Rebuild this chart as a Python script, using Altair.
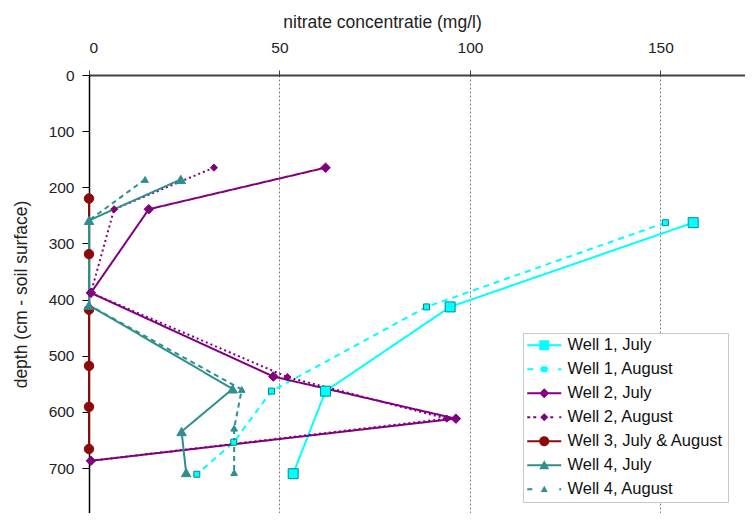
import altair as alt
import pandas as pd

# ---- data ----
series = ["Well 1, July", "Well 1, August", "Well 2, July", "Well 2, August",
          "Well 3, July & August", "Well 4, July", "Well 4, August"]

w1_jul_x = [158.6, 94.8, 62.1, 53.6]
w1_jul_d = [263, 413, 563, 710]
w1_aug_x = [151.3, 88.6, 47.9, 38.0, 28.3]
w1_aug_d = [263, 413, 563, 654, 711]
w2_jul_x = [62.1, 15.7, 0.5, 48.4, 96.3, 0.5]
w2_jul_d = [165, 239, 388, 537, 612, 687]
w2_aug_x = [32.8, 6.6, 0.5, 52.1, 93.9, 0.5]
w2_aug_d = [165, 239, 388, 538, 612, 687]
w3_x = [0, 0, 0, 0, 0, 0]
w3_d = [220, 319, 418, 518, 591, 666]
w4_jul_x = [24.1, 0.0, 0.0, 37.7, 24.3, 25.5]
w4_jul_d = [186, 259, 410, 559, 635, 708]
w4_aug_x = [14.7, 0.0, 0.0, 40.1, 38.1, 38.1]
w4_aug_d = [186, 259, 410, 560, 629, 708]

xs = [w1_jul_x, w1_aug_x, w2_jul_x, w2_aug_x, w3_x, w4_jul_x, w4_aug_x]
ds = [w1_jul_d, w1_aug_d, w2_jul_d, w2_aug_d, w3_d, w4_jul_d, w4_aug_d]

colors = ["#00FFFF", "#00FFFF", "#800080", "#800080", "#8B0A0A", "#2F8F8F", "#2F8F8F"]
mstroke = ["#008B8B", "#008B8B", "#800080", "#800080", "#8B0A0A", "#2F8F8F", "#2F8F8F"]
mshape = ["square", "square", "diamond", "diamond", "circle", "triangle-up", "triangle-up"]
msize = [100, 36, 90, 50, 90, 90, 45]
dashes = [[1, 0], [6, 5], [1, 0], [2, 3], [1, 0], [1, 0], [5, 4]]

rows = []
for i, s in enumerate(series):
    for k, (x, d) in enumerate(zip(xs[i], ds[i])):
        rows.append({"series": s, "x": x, "depth": d, "order": k,
                     "fillcol": colors[i], "strokecol": mstroke[i],
                     "mshape": mshape[i], "msize": msize[i]})
df = pd.DataFrame(rows)

# ---- legend symbols: line + marker as custom paths (px -> units, 6px per unit) ----
U = 6.0
def f(v):
    return f"{v / U:.3f}"
def rect(x0, x1, h=1.0):
    return f"M{f(x0)},{f(-h)}H{f(x1)}V{f(h)}H{f(x0)}Z"
def square(cx, h):
    return f"M{f(cx - h)},{f(-h)}H{f(cx + h)}V{f(h)}H{f(cx - h)}Z"
def diamond(cx, h):
    return f"M{f(cx)},{f(-h)}L{f(cx + h)},0L{f(cx)},{f(h)}L{f(cx - h)},0Z"
def circle(cx, r):
    return (f"M{f(cx - r)},0A{f(r)},{f(r)} 0 1,1 {f(cx + r)},0"
            f"A{f(r)},{f(r)} 0 1,1 {f(cx - r)},0Z")
def tri(cx, h):
    return f"M{f(cx)},{f(-h)}L{f(cx + h)},{f(h * 0.8)}L{f(cx - h)},{f(h * 0.8)}Z"

L0, L1, MC = -8, 26, 9
legend_paths = [
    rect(L0, L1) + square(MC, 5),
    rect(L0, L0 + 6) + rect(MC - 4, MC + 4) + rect(L1 - 3, L1) + square(MC, 3),
    rect(L0, L1) + diamond(MC, 5),
    rect(L0, L0 + 3) + rect(L0 + 6, L0 + 9) + rect(MC + 6, MC + 9) + rect(L1 - 2, L1) + diamond(MC, 4),
    rect(L0, L1) + circle(MC, 5),
    rect(L0, L1) + tri(MC, 5),
    rect(L0, L0 + 5) + rect(L1 - 2, L1) + tri(MC, 3.5),
]

FONT = "Liberation Sans"

x_enc = alt.X("x:Q", scale=alt.Scale(domain=[0, 172.2], nice=False, zero=False),
              axis=alt.Axis(orient="top", values=[0, 50, 100, 150], title="nitrate concentratie (mg/l)",
                            grid=True, gridDash=[2, 2], gridColor="#808080", gridWidth=1,
                            domainColor="#404040", domainWidth=2, tickColor="#404040",
                            tickSize=5, labelPadding=15, labelFontSize=15.5, labelFont=FONT,
                            labelColor="#222", titleFont=FONT, titleFontSize=17.5,
                            titleFontWeight="normal", titleColor="#222", titlePadding=9,
                            titleX=293, titleAlign="center"))
y_enc = alt.Y("depth:Q", scale=alt.Scale(domain=[0, 780], nice=False, zero=False, reverse=True),
              axis=alt.Axis(values=[0, 100, 200, 300, 400, 500, 600, 700],
                            title="depth (cm - soil surface)", grid=False,
                            domainColor="#000", domainWidth=1.5, tickColor="#000", tickSize=7,
                            labelPadding=8, labelFontSize=15.5, labelFont=FONT, labelColor="#222",
                            titleFont=FONT, titleFontSize=17.5, titleFontWeight="normal",
                            titleColor="#222", titlePadding=18))

color_scale = alt.Scale(domain=series, range=colors)

leg = alt.Legend(title=None, orient="none", legendX=434, legendY=258, symbolSize=144,
                 symbolStrokeWidth=0, symbolOpacity=1, labelFontSize=16.5, labelFont=FONT,
                 labelColor="#111", labelOffset=24, labelLimit=0, rowPadding=7, padding=4,
                 strokeColor="#c8c8c8", fillColor="white")

lines = alt.Chart(df).mark_line(strokeWidth=2).encode(
    x=x_enc, y=y_enc,
    color=alt.Color("series:N", scale=color_scale, legend=leg),
    strokeDash=alt.StrokeDash("series:N", scale=alt.Scale(domain=series, range=dashes), legend=None),
    order="order:Q",
)

point_layers = []
for shp in ["square", "diamond", "circle", "triangle-up"]:
    point_layers.append(
        alt.Chart(df).transform_filter(alt.datum.mshape == shp)
        .mark_point(shape=shp, filled=True, opacity=1, strokeWidth=1)
        .encode(x="x:Q", y="depth:Q",
                fill=alt.Fill("fillcol:N", scale=None),
                stroke=alt.Stroke("strokecol:N", scale=None),
                size=alt.Size("msize:Q", scale=None))
    )

legend_layer = alt.Chart(df).transform_filter("datum.order < 0").mark_point(filled=True, opacity=1).encode(
    x="x:Q", y="depth:Q",
    color=alt.Color("series:N", scale=color_scale, legend=leg),
    shape=alt.Shape("series:N", scale=alt.Scale(domain=series, range=legend_paths), legend=leg),
)

chart = alt.layer(lines, *point_layers, legend_layer).properties(
    width=656, height=438,
    autosize=alt.AutoSizeParams(type="none"),
    padding={"left": 81, "top": 67, "right": 0, "bottom": 0},
).configure_view(stroke=None)

chart.save("out.html", embed_options={"renderer": "svg", "actions": False})
